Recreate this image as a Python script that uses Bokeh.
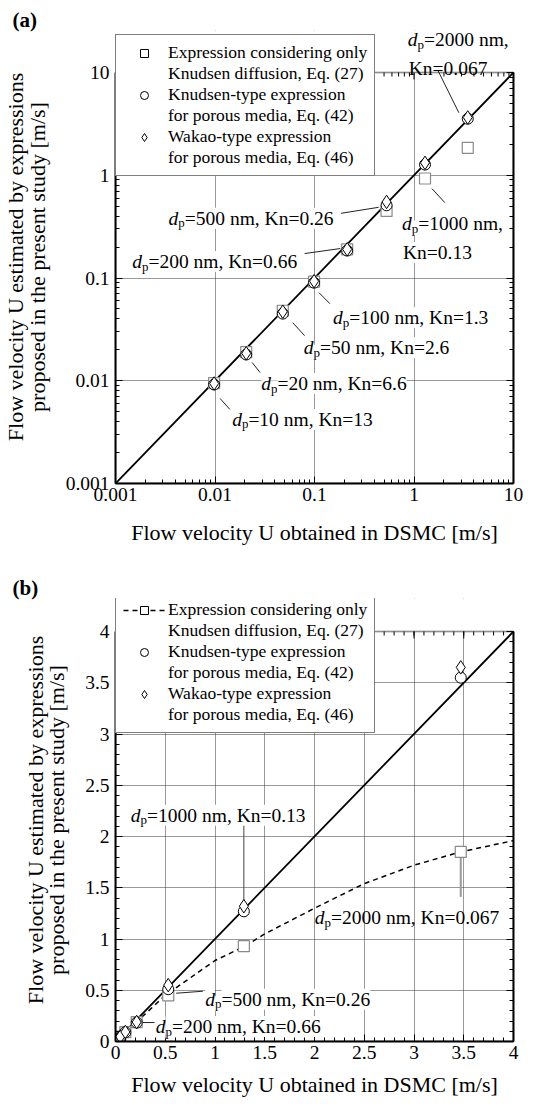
import math
from bokeh.plotting import figure
from bokeh.layouts import column
from bokeh.models import (Legend, LegendItem, Label, LinearAxis, LogAxis, FixedTicker,
                          CustomJSTickFormatter, BoxAnnotation)
from bokeh.embed import file_html
from bokeh.resources import INLINE

# ---------------- data ----------------
dp_nm = [10, 20, 50, 100, 200, 500, 1000, 2000]
kn_values = ["13", "6.6", "2.6", "1.3", "0.66", "0.26", "0.13", "0.067"]
u_dsmc = [0.0098, 0.0206, 0.048, 0.099, 0.213, 0.53, 1.29, 3.47]
u_knudsen_only = [0.0095, 0.019, 0.048, 0.092, 0.19, 0.45, 0.93, 1.85]
u_knudsen_type = [0.0092, 0.018, 0.045, 0.090, 0.185, 0.51, 1.27, 3.55]
u_wakao = [0.0094, 0.0185, 0.047, 0.093, 0.19, 0.55, 1.32, 3.65]
curve_b_x = [0.0, 0.2, 0.5, 1.0, 1.3, 1.5, 2.0, 2.5, 3.0, 3.47, 4.0]
curve_b_y = [0.0, 0.18, 0.45, 0.79, 0.93, 1.05, 1.30, 1.54, 1.72, 1.85, 1.96]
parity_log = [0.001, 10]
parity_lin = [0, 4]
log_ticks = [0.001, 0.01, 0.1, 1, 10]
log_tick_labels = ["0.001", "0.01", "0.1", "1", "10"]
lin_ticks = [0, 0.5, 1, 1.5, 2, 2.5, 3, 3.5, 4]
lin_tick_labels = ["0", "0.5", "1", "1.5", "2", "2.5", "3", "3.5", "4"]
legend_lines = [("Expression considering only", "Knudsen diffusion, Eq. (27)"),
                ("Knudsen-type expression", "for porous media, Eq. (42)"),
                ("Wakao-type expression", "for porous media, Eq. (46)")]
x_title = "Flow velocity U obtained in DSMC [m/s]"
y_title = "Flow velocity U estimated by expressions\nproposed in the present study [m/s]"

# ---------------- style / layout ----------------
FONT = "Liberation Serif"
W, H = 536, 553
BL, BR = 111, 23
BOX_W = W - BL - BR
TICK_PX = "19.5px"
ANN_SIZE = 19.5
SUB_SIZE = 13
GRAY = "#8a8a8a"


def to_data(kind, ppx, ppy, x, y, dx, dy):
    if kind == "log":
        return x * 10 ** (dx / ppx), y * 10 ** (-dy / ppy)
    return x + dx / ppx, y - dy / ppy


def make_fig(kind, tag, box_top, box_bottom, title_pad, xlab_standoff):
    box_h = box_bottom - box_top
    extra = box_top - title_pad
    common = dict(width=W, height=H, output_backend="svg", toolbar_location=None,
                  min_border_left=BL, min_border_right=BR, min_border_top=title_pad,
                  min_border_bottom=H - box_bottom)
    if kind == "log":
        ppy = box_h / 4.0
        ppx = BOX_W / 4.0
        ytop = log_ticks[-1] * 10 ** (extra / ppy)
        p = figure(x_axis_type="log", y_axis_type="log",
                   x_range=(log_ticks[0], log_ticks[-1]), y_range=(log_ticks[0], ytop), **common)
        ticks, labels = log_ticks, log_tick_labels
        minor = [m * t for t in log_ticks[:-1] for m in range(2, 10)]
        Ax = LogAxis
    else:
        span = lin_ticks[-1] - lin_ticks[0]
        ppy = box_h / span
        ppx = BOX_W / span
        ytop = lin_ticks[-1] + extra / ppy
        p = figure(x_range=(lin_ticks[0], lin_ticks[-1]), y_range=(lin_ticks[0], ytop), **common)
        ticks, labels = lin_ticks, lin_tick_labels
        nmin = int(round(span / 0.1))
        minor = [round(lin_ticks[0] + i * 0.1, 2) for i in range(nmin + 1)]
        Ax = LinearAxis
    p.outline_line_color = None
    p.background_fill_color = "white"
    p.border_fill_color = "white"
    ticker = FixedTicker(ticks=ticks, minor_ticks=minor)
    bottom_ax, left_ax = p.below[0], p.left[0]
    right_ax = Ax()
    p.add_layout(right_ax, "right")
    for ax in (bottom_ax, left_ax, right_ax):
        ax.ticker = ticker
        ax.bounds = (ticks[0], ticks[-1])
        ax.axis_line_color = "black"
        ax.axis_line_width = 2
        ax.major_tick_in = 7
        ax.major_tick_out = 0
        ax.minor_tick_in = 4
        ax.minor_tick_out = 0
        ax.major_tick_line_color = "black"
        ax.minor_tick_line_color = "black"
        ax.major_label_text_font = FONT
        ax.major_label_text_font_size = TICK_PX
        ax.major_label_text_color = "black"
        ax.axis_label_text_font = FONT
        ax.axis_label_text_font_size = "22px"
        ax.axis_label_text_font_style = "normal"
        ax.axis_label_text_color = "black"
    right_ax.formatter = CustomJSTickFormatter(code="return ''")
    lab = dict(zip(ticks, labels))
    bottom_ax.major_label_overrides = lab
    left_ax.major_label_overrides = lab
    bottom_ax.major_label_standoff = 4
    left_ax.major_label_standoff = 6
    bottom_ax.axis_label = x_title
    bottom_ax.axis_label_standoff = xlab_standoff
    left_ax.axis_label = y_title
    left_ax.axis_label_standoff = 13
    left_ax.axis_label_text_line_height = 0.85
    for g in (p.xgrid[0], p.ygrid[0]):
        g.ticker = ticker
        g.grid_line_color = "#333333"
        g.grid_line_dash = "1 1"
        g.grid_line_width = 1
    # white cover above the box (hides the upper part of the vertical grid lines)
    p.add_layout(BoxAnnotation(bottom=ticks[-1], fill_color="white", fill_alpha=1,
                               line_alpha=0, level="underlay"))
    # box outline (its top edge) + inward ticks along the top edge
    p.add_layout(BoxAnnotation(left=ticks[0], right=ticks[-1], bottom=ticks[0], top=ticks[-1],
                               fill_alpha=0, line_color="black", line_width=2))
    for tk, L in ((minor, 4), (ticks, 7)):
        _, y1 = to_data(kind, ppx, ppy, 1, ticks[-1], 0, L)
        p.segment(x0=tk, y0=[ticks[-1]] * len(tk), x1=tk, y1=[y1] * len(tk),
                  line_color="black", line_width=1)
    p.title.text = tag
    p.title.text_font = FONT
    p.title.text_font_size = "21px"
    p.title.text_font_style = "bold"
    p.title.text_color = "black"
    p.title.align = "left"
    p.title.offset = -103
    p.title.standoff = -3
    return p, ppx, ppy


def leader(p, kind, ppx, ppy, x, y, a, b, color="#222222", width=1):
    x0, y0 = to_data(kind, ppx, ppy, x, y, *a)
    x1, y1 = to_data(kind, ppx, ppy, x, y, *b)
    p.segment(x0=[x0], y0=[y0], x1=[x1], y1=[y1], line_color=color, line_width=width)


def ann(p, x, y, dx, dy, rest, with_dp=True, bg="white"):
    kw = dict(x=x, y=y, text_font=FONT, text_color="black", text_align="left",
              text_baseline="alphabetic", background_fill_color=bg)
    if with_dp:
        wd = 0.5 * ANN_SIZE
        p.add_layout(Label(x_offset=dx + wd, y_offset=-(dy + 4.5), text="p",
                           text_font_size=f"{SUB_SIZE}px", **kw))
        p.add_layout(Label(x_offset=dx, y_offset=-dy, text="d", text_font_style="italic",
                           text_font_size=f"{ANN_SIZE}px", **kw))
        p.add_layout(Label(x_offset=dx + wd + 0.5 * SUB_SIZE, y_offset=-dy, text=rest,
                           text_font_size=f"{ANN_SIZE}px", **kw))
    else:
        p.add_layout(Label(x_offset=dx, y_offset=-dy, text=rest,
                           text_font_size=f"{ANN_SIZE}px", **kw))


def add_markers(p):
    # tiny black squares hidden under the grey ones give the legend its black square key;
    # a fully transparent copy serves the continuation lines of the legend.
    sq_key = p.scatter(u_dsmc, u_knudsen_only, marker="square", size=1, line_color="black",
                       fill_color="white")
    blank = p.scatter(u_dsmc, u_knudsen_only, marker="square", size=1, line_alpha=0, fill_alpha=0)
    p.scatter(u_dsmc, u_knudsen_only, marker="square", size=11, line_color=GRAY,
              fill_color="white", line_width=1.2)
    ci = p.scatter(u_dsmc, u_knudsen_type, marker="circle", size=11, line_color="black",
                   fill_color="white", line_width=1)
    di = p.scatter(u_dsmc, u_wakao, marker="diamond", size=13.5, line_color="black",
                   fill_color="white", line_width=1)
    return sq_key, blank, ci, di


def add_legend(p, vy, first, ci, di, blank):
    rends = [first, [ci], [di]]
    items = []
    for (l1, l2), r in zip(legend_lines, rends):
        items.append(LegendItem(label=l1, renderers=r))
        items.append(LegendItem(label=l2, renderers=[blank]))
    leg = Legend(items=items, location=(0, vy), glyph_width=42, glyph_height=20, spacing=0,
                 padding=7, label_standoff=3, margin=0, label_height=14,
                 border_line_color="black", border_line_width=1,
                 background_fill_color="white", background_fill_alpha=1,
                 label_text_font=FONT, label_text_font_size="17.5px", label_text_color="black")
    p.add_layout(leg)


# ---------------- panel (a) ----------------
pa, ppx_a, ppy_a = make_fig("log", "(a)", 72, 483, 30, 16)
pa.line(parity_log, parity_log, line_color="black", line_width=1.8)
lead_a = [((6, 14), (16, 25)), ((6, 8), (14, 18)), ((10, 9), (22, 22)), ((5, 10), (16, 21)),
          ((-43, 3), (-7, -2)), ((-46, 8), (-8, 2)), ((7, 24), (20, 38)), ((-30, -48), (-9, -6))]
for i, (a, b) in enumerate(lead_a):
    leader(pa, "log", ppx_a, ppy_a, u_dsmc[i], u_knudsen_type[i], a, b)
sq_a, blank_a, ci_a, di_a = add_markers(pa)

text_a = [(18, 35), (15, 29), (21, 34), (19, 35), (-215, 11), (-218, 13)]
for i, (dx, dy) in enumerate(text_a):
    ann(pa, u_dsmc[i], u_knudsen_type[i], dx, dy, f"={dp_nm[i]} nm, Kn={kn_values[i]}")
ann(pa, u_dsmc[6], u_knudsen_type[6], -23, 59, f"={dp_nm[6]} nm,")
ann(pa, u_dsmc[6], u_knudsen_type[6], -22, 88, f"Kn={kn_values[6]}", with_dp=False)
ann(pa, u_dsmc[7], u_knudsen_type[7], -60, -79, f"={dp_nm[7]} nm,", bg=None)
ann(pa, u_dsmc[7], u_knudsen_type[7], -59, -50, f"Kn={kn_values[7]}", with_dp=False, bg=None)
add_legend(pa, 307, [sq_a], ci_a, di_a, blank_a)

# ---------------- panel (b) ----------------
pb, ppx_b, ppy_b = make_fig("lin", "(b)", 78, 488, 45, 10)
pb.line(parity_lin, parity_lin, line_color="black", line_width=1.8)
dash_b = pb.line(curve_b_x, curve_b_y, line_color="black", line_width=1.5, line_dash="5 4")
leader(pb, "lin", ppx_b, ppy_b, u_dsmc[4], u_knudsen_type[4], (6, 0), (18, 0))
leader(pb, "lin", ppx_b, ppy_b, u_dsmc[5], u_knudsen_type[5], (8, 4), (35, 2))
leader(pb, "lin", ppx_b, ppy_b, u_dsmc[6], u_knudsen_type[6], (0, -92), (0, -8), color="#444444")
leader(pb, "lin", ppx_b, ppy_b, u_dsmc[7], u_knudsen_only[7], (0, 6), (0, 45), color="#999999", width=2)
sq_b, blank_b, ci_b, di_b = add_markers(pb)

ann(pb, u_dsmc[4], u_knudsen_type[4], 19, 4, f"={dp_nm[4]} nm, Kn={kn_values[4]}")
ann(pb, u_dsmc[5], u_knudsen_type[5], 37, 10, f"={dp_nm[5]} nm, Kn={kn_values[5]}")
ann(pb, u_dsmc[6], u_knudsen_type[6], -113, -96, f"={dp_nm[6]} nm, Kn={kn_values[6]}")
ann(pb, u_dsmc[7], u_knudsen_only[7], -146, 66, f"={dp_nm[7]} nm, Kn={kn_values[7]}", bg=None)
add_legend(pb, 308, [dash_b, sq_b], ci_b, di_b, blank_b)

layout = column(pa, pb)
open("out.html", "w").write(file_html(layout, INLINE))
